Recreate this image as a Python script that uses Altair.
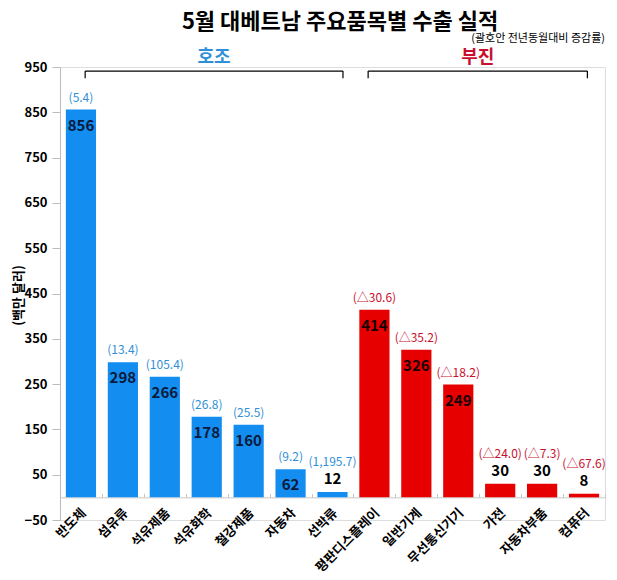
import altair as alt
import pandas as pd

cats = ["반도체", "섬유류", "석유제품", "석유화학", "철강제품", "자동차", "선박류",
        "평판디스플레이", "일반기계", "무선통신기기", "가전", "자동차부품", "컴퓨터"]
values = [856, 298, 266, 178, 160, 62, 12, 414, 326, 249, 30, 30, 8]
changes = ["(5.4)", "(13.4)", "(105.4)", "(26.8)", "(25.5)", "(9.2)", "(1,195.7)",
           "(△30.6)", "(△35.2)", "(△18.2)", "(△24.0)", "(△7.3)", "(△67.6)"]
groups = ["호조"] * 7 + ["부진"] * 6

# bracket annotations (in category-index units)
br_label = ["호조", "부진"]
br_start = [0.6, 7.35]
br_end = [6.75, 12.58]
br_y = [941, 941]
br_y2 = [925, 925]
br_label_y = [970, 970]

title_text = "5월 대베트남 주요품목별 수출 실적"
subtitle_text = "(괄호안 전년동월대비 증감률)"

FONT = "Noto Sans CJK KR"
BLUE = "#138DF0"
RED = "#E60000"
PBLUE = "#2F8FD8"
PRED = "#C8102E"

df = pd.DataFrame({"cat": cats, "value": values, "chg": changes, "grp": groups})
br = pd.DataFrame({"label": br_label, "s": br_start, "e": br_end, "y": br_y,
                   "y2": br_y2, "ly": br_label_y})
br["mid"] = (br["s"] + br["e"]) / 2
titles = pd.DataFrame({"t": [title_text], "x": [6.68], "y": [1050]})
sub = pd.DataFrame({"t": [subtitle_text], "x": [13.0], "y": [1012]})

yscale = alt.Scale(domain=[-50, 950], nice=False, zero=False)
xcat = alt.X("cat:N", sort=cats, scale=alt.Scale(paddingInner=0.28, paddingOuter=0.14),
             axis=alt.Axis(title=None, labelAngle=-45, labelAlign="right",
                           labelBaseline="middle", labelFont=FONT, labelFontSize=13,
                           labelFontWeight="bold", labelColor="#000000",
                           domainColor="#C8C8C8", ticks=False, offset=-22.65,
                           labelPadding=13, labelOffset=3))
yax = alt.Y("value:Q", scale=yscale,
            axis=alt.Axis(values=list(range(-50, 951, 100)), title="(백만 달러)",
                          titleFont=FONT, titleFontSize=13, titleFontWeight="bold",
                          titleColor="#000000", titleX=-42, titleY=228,
                          titleBaseline="middle",
                          labelFont=FONT, labelFontSize=13, labelFontWeight="bold",
                          labelColor="#000000", domainColor="#BBBBBB",
                          tickColor="#BBBBBB", tickSize=8, labelPadding=5, grid=False))

color = alt.Color("grp:N", scale=alt.Scale(domain=["호조", "부진"], range=[BLUE, RED]),
                  legend=None)
is_good = "datum.grp == '호조'"

base = alt.Chart(df)
bars = base.mark_bar().encode(x=xcat, y=yax, color=color)

inside = base.transform_filter("datum.value >= 50")
outside = base.transform_filter("datum.value < 50")

val_in = inside.mark_text(font=FONT, fontSize=15, fontWeight="bold", dy=16).encode(
    x=alt.X("cat:N", sort=cats), y="value:Q", text="value:Q",
    color=alt.condition(is_good, alt.value("#0B1A3C"), alt.value("#1A0000")))
val_out = outside.mark_text(font=FONT, fontSize=15, fontWeight="bold", dy=-13,
                            color="#000000").encode(
    x=alt.X("cat:N", sort=cats), y="value:Q", text="value:Q")

pcolor = alt.condition(is_good, alt.value(PBLUE), alt.value(PRED))
pct_in = inside.mark_text(font=FONT, fontSize=12, dy=-12).encode(
    x=alt.X("cat:N", sort=cats), y="value:Q", text="chg:N", color=pcolor)
pct_out = outside.mark_text(font=FONT, fontSize=12, dy=-30).encode(
    x=alt.X("cat:N", sort=cats), y="value:Q", text="chg:N", color=pcolor)

main = alt.layer(bars, val_in, val_out, pct_in, pct_out)

xq = alt.Scale(domain=[0, 13], nice=False, zero=False)
bx = alt.X("s:Q", scale=xq,
           axis=alt.Axis(values=list(range(14)), labels=False, domain=False,
                         tickSize=4, tickColor="#C8C8C8", offset=-26.65, grid=False,
                         title=None, orient="bottom"))
bchart = alt.Chart(br)
hline = bchart.mark_rule(color="#000000", strokeWidth=1.2).encode(
    x=bx, x2="e:Q", y=alt.Y("y:Q", scale=yscale))
lv = bchart.mark_rule(color="#000000", strokeWidth=1.2).encode(
    x=alt.X("s:Q", scale=xq), y=alt.Y("y:Q", scale=yscale), y2="y2:Q")
rv = bchart.mark_rule(color="#000000", strokeWidth=1.2).encode(
    x=alt.X("e:Q", scale=xq), y=alt.Y("y:Q", scale=yscale), y2="y2:Q")
blabel = bchart.mark_text(font=FONT, fontSize=18, fontWeight="bold").encode(
    x=alt.X("mid:Q", scale=xq), y=alt.Y("ly:Q", scale=yscale), text="label:N",
    color=alt.condition("datum.label == '호조'", alt.value(PBLUE), alt.value(PRED)))
subt = alt.Chart(sub).mark_text(font=FONT, fontSize=11, align="right",
                                color="#000000").encode(
    x=alt.X("x:Q", scale=xq), y=alt.Y("y:Q", scale=yscale), text="t:N")
ttl = alt.Chart(titles).mark_text(font=FONT, fontSize=22, fontWeight="bold",
                                  color="#000000").encode(
    x=alt.X("x:Q", scale=xq), y=alt.Y("y:Q", scale=yscale), text="t:N")

ann = alt.layer(hline, lv, rv, blabel, subt, ttl)

chart = alt.layer(main, ann).resolve_scale(x="independent").properties(
    width=545, height=453,
    padding={"left": 52, "top": 59, "right": 4, "bottom": 60},
    autosize=alt.AutoSizeParams(type="none"),
).configure_view(stroke=None).configure(background="#FFFFFF")

chart.save("out.html", embed_options={"renderer": "svg", "actions": False})
